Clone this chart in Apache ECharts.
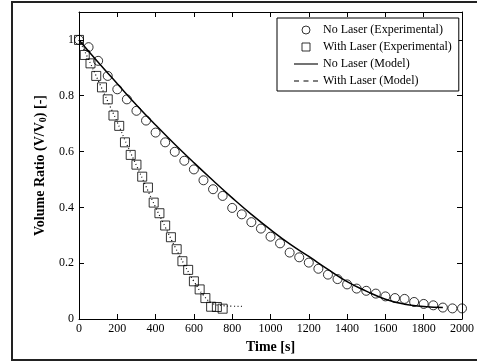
<!DOCTYPE html>
<html>
<head>
<meta charset="utf-8">
<script src="https://cdn.jsdelivr.net/npm/echarts@6/dist/echarts.min.js"></script>
<style>
  html, body { margin: 0; padding: 0; background: #fff; }
  #chart { width: 477px; height: 362px; }
</style>
</head>
<body>
<div id="chart"></div>
<script>
// experimental, no laser: every 50 s
const noLaserTime = [0, 50, 100, 150, 200, 250, 300, 350, 400, 450, 500, 550, 600, 650, 700, 750, 800, 850, 900, 950,
    1000, 1050, 1100, 1150, 1200, 1250, 1300, 1350, 1400, 1450, 1500, 1550, 1600, 1650, 1700, 1750, 1800, 1850, 1900, 1950, 2000];
const noLaserExp = [1.0, 0.974, 0.925, 0.871, 0.823, 0.787, 0.746, 0.711, 0.668, 0.633, 0.599, 0.567, 0.536, 0.497, 0.465, 0.441, 0.398, 0.375, 0.347, 0.324,
    0.295, 0.271, 0.238, 0.221, 0.202, 0.180, 0.159, 0.143, 0.124, 0.109, 0.101, 0.091, 0.081, 0.075, 0.072, 0.061, 0.054, 0.049, 0.041, 0.038, 0.038];

// experimental, with laser: every 30 s
const laserTime = [0, 30, 60, 90, 120, 150, 180, 210, 240, 270, 300, 330, 360, 390, 420, 450, 480, 510, 540, 570, 600, 630, 660, 690, 720, 750];
const laserExp = [1.0, 0.946, 0.916, 0.871, 0.830, 0.787, 0.729, 0.692, 0.633, 0.588, 0.553, 0.510, 0.471, 0.417, 0.379, 0.335,
    0.293, 0.250, 0.207, 0.176, 0.135, 0.106, 0.075, 0.044, 0.043, 0.037];

// model curves
const noLaserModelTime = [0, 100, 200, 300, 400, 500, 600, 700, 800, 900, 1000, 1100, 1200, 1300, 1400, 1500, 1600, 1700, 1800, 1900];
const noLaserModel = [1.0, 0.92, 0.843, 0.767, 0.695, 0.626, 0.560, 0.496, 0.434, 0.375, 0.320, 0.269, 0.224, 0.178, 0.134, 0.100, 0.071, 0.053, 0.045, 0.041];
const laserModelTime = [0, 50, 100, 150, 200, 250, 300, 350, 400, 450, 500, 550, 600, 650, 700, 750, 800, 850];
const laserModel = [1.0, 0.93, 0.855, 0.78, 0.705, 0.625, 0.55, 0.475, 0.40, 0.33, 0.26, 0.195, 0.135, 0.085, 0.055, 0.048, 0.046, 0.045];

const xTicks = [0, 200, 400, 600, 800, 1000, 1200, 1400, 1600, 1800, 2000];
const yTicks = [0, 0.2, 0.4, 0.6, 0.8, 1];

const zip = (xs, ys) => xs.map((x, i) => [x, ys[i]]);

const FONT = 'Liberation Serif';
const SQUARE = 'path://M0,0L10,0L10,10L0,10Z';
const chart = echarts.init(document.getElementById('chart'), null, { renderer: 'canvas' });

const axisCommon = {
    axisLine: { show: true, onZero: false, lineStyle: { color: '#000', width: 1 } },
    axisTick: { show: true, inside: true, length: 5, lineStyle: { color: '#000' } },
    splitLine: { show: false }
};

const hollow = { color: 'rgba(0,0,0,0)', borderColor: '#000', borderWidth: 1 };

chart.setOption({
    backgroundColor: '#fff',
    animation: false,
    textStyle: { fontFamily: FONT },
    graphic: [{
        type: 'rect',
        shape: { x: 12, y: 2, width: 470, height: 358 },
        style: { fill: 'none', stroke: '#222', lineWidth: 2 },
        silent: true
    }],
    grid: { left: 79, right: 9, top: 12, bottom: 43 },
    legend: {
        orient: 'vertical',
        left: 277,
        top: 18,
        padding: [6, 7, 4, 17],
        itemGap: 5,
        itemWidth: 24,
        itemHeight: 8,
        borderColor: '#000',
        borderWidth: 1,
        backgroundColor: '#fff',
        textStyle: { fontFamily: FONT, fontSize: 12, color: '#000' },
        data: [
            { name: 'No Laser (Experimental)', icon: 'circle', itemStyle: hollow },
            { name: 'With Laser (Experimental)', icon: SQUARE, itemStyle: hollow },
            { name: 'No Laser (Model)', icon: 'path://M0,0L24,0L24,1.1L0,1.1Z', itemStyle: { color: '#000', borderWidth: 0 } },
            { name: 'With Laser (Model)', icon: 'path://M0,0h5v1.1h-5zM9.5,0h5v1.1h-5zM19,0h5v1.1h-5z', itemStyle: { color: '#000', borderWidth: 0 } }
        ]
    },
    xAxis: [{
        ...axisCommon,
        type: 'value',
        min: 0, max: 2000, interval: 200,
        name: 'Time [s]',
        nameLocation: 'middle',
        nameGap: 21,
        nameTextStyle: { fontFamily: FONT, fontSize: 14, fontWeight: 'bold', color: '#000' },
        axisLabel: { color: '#000', fontSize: 12, fontFamily: FONT, margin: 4,
            formatter: v => xTicks.includes(v) ? String(v) : '' }
    }, {
        ...axisCommon,
        type: 'value', position: 'top',
        min: 0, max: 2000, interval: 200,
        axisLabel: { show: false }
    }],
    yAxis: [{
        ...axisCommon,
        type: 'value',
        min: 0, max: 1.1, interval: 0.2,
        name: '{b|Volume Ratio (V/V}{s|0}{b|) [-]}',
        nameLocation: 'middle',
        nameGap: 31,
        nameTextStyle: {
            rich: {
                b: { fontFamily: FONT, fontSize: 14, fontWeight: 'bold', color: '#000' },
                s: { fontFamily: FONT, fontSize: 10, fontWeight: 'bold', color: '#000', verticalAlign: 'bottom', padding: [6, 0, 0, 0] }
            }
        },
        axisLabel: { color: '#000', fontSize: 12, fontFamily: FONT, margin: 5,
            formatter: v => yTicks.some(t => Math.abs(t - v) < 1e-6) ? String(+v.toFixed(1)) : '' }
    }, {
        ...axisCommon,
        type: 'value', position: 'right',
        min: 0, max: 1.1, interval: 0.2,
        axisLabel: { show: false }
    }],
    series: [{
        name: 'No Laser (Experimental)',
        type: 'scatter',
        symbol: 'circle',
        symbolSize: 9,
        itemStyle: hollow,
        data: zip(noLaserTime, noLaserExp),
        z: 3
    }, {
        name: 'With Laser (Experimental)',
        type: 'scatter',
        symbol: 'rect',
        symbolSize: 9,
        itemStyle: hollow,
        data: zip(laserTime, laserExp),
        z: 3
    }, {
        name: 'No Laser (Model)',
        type: 'line',
        smooth: true,
        showSymbol: false,
        symbol: 'none',
        lineStyle: { color: '#000', width: 1.5 },
        itemStyle: { color: '#000' },
        data: zip(noLaserModelTime, noLaserModel),
        z: 2
    }, {
        name: 'With Laser (Model)',
        type: 'line',
        smooth: true,
        showSymbol: false,
        symbol: 'none',
        lineStyle: { color: '#000', width: 1.2, type: [1, 2.5] },
        itemStyle: { color: '#000' },
        data: zip(laserModelTime, laserModel),
        z: 2
    }]
});
</script>
</body>
</html>
